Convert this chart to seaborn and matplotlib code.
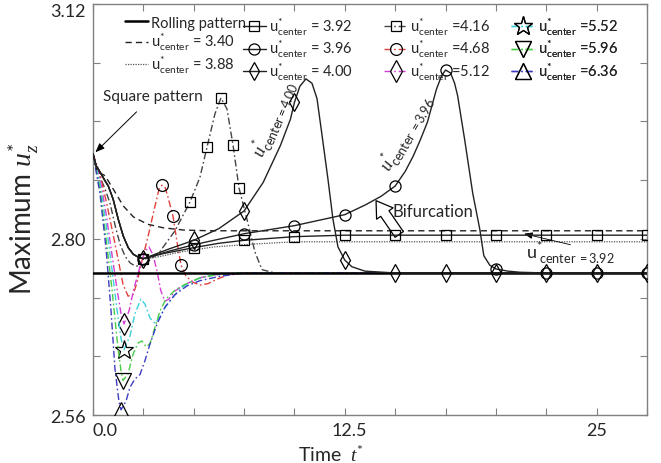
import numpy as np
import matplotlib
matplotlib.use("Agg")
import matplotlib.pyplot as plt
import matplotlib.transforms as mtransforms
from matplotlib.lines import Line2D
import seaborn as sns

# ---------------------------------------------------------------- data
# Rolling-pattern reference level
t_roll = [0.0, 27.5]
v_roll = [2.7535, 2.7535]

t_340 = [0.0, 0.2, 0.6, 1.0, 1.5, 2.0, 2.7, 3.5, 4.5, 5.8, 8.0, 27.5]
v_340 = [2.916, 2.892, 2.886, 2.868, 2.845, 2.830, 2.820, 2.815, 2.812, 2.811, 2.811, 2.811]

t_388 = [0.0, 0.15, 0.35, 0.6, 0.76, 1.0, 1.25, 1.5, 1.75, 2.0, 2.25, 2.5, 3.5, 4.3, 6.0, 8.0, 10.0, 27.5]
v_388 = [2.916, 2.900, 2.891, 2.879, 2.872, 2.854, 2.827, 2.804, 2.788, 2.779, 2.775, 2.772,
         2.777, 2.782, 2.789, 2.793, 2.796, 2.796]

t_392 = [0.0, 0.15, 0.35, 0.6, 0.76, 1.0, 1.25, 1.5, 1.75, 2.0, 2.25, 2.5, 3.5, 5.0, 6.25,
         7.5, 10.0, 12.5, 15.0, 17.5, 20.0, 22.5, 25.0, 27.5]
v_392 = [2.916, 2.900, 2.891, 2.879, 2.872, 2.854, 2.827, 2.804, 2.788, 2.779, 2.775, 2.773,
         2.780, 2.788, 2.794, 2.798, 2.803, 2.805, 2.805, 2.805, 2.805, 2.805, 2.805, 2.805]

t_396 = [0.0, 0.15, 0.35, 0.6, 0.76, 1.0, 1.25, 1.5, 1.75, 2.0, 2.25, 2.5, 3.75, 5.0, 7.5,
         10.0, 12.5, 13.5, 14.3, 15.0, 15.5, 15.9, 16.25, 16.6, 17.05, 17.3, 17.5, 17.75,
         17.95, 18.1, 18.45, 18.85, 19.2, 19.4, 19.7, 20.0, 20.6, 21.2, 22.5, 25.0, 27.5]
v_396 = [2.916, 2.900, 2.891, 2.879, 2.872, 2.854, 2.827, 2.804, 2.788, 2.779, 2.775, 2.773,
         2.783, 2.792, 2.807, 2.818, 2.833, 2.846, 2.858, 2.872, 2.892, 2.913, 2.935, 2.959,
         3.004, 3.022, 3.030, 3.026, 3.012, 2.995, 2.935, 2.862, 2.813, 2.777, 2.764, 2.759,
         2.756, 2.7545, 2.7535, 2.7535, 2.7535]

t_400 = [0.0, 0.15, 0.35, 0.6, 0.76, 1.0, 1.25, 1.5, 1.75, 2.0, 2.25, 2.5, 3.75, 5.0, 6.25,
         7.5, 8.45, 9.3, 9.8, 10.0, 10.27, 10.57, 10.87, 11.12, 11.36, 11.66, 11.91, 12.16,
         12.5, 12.85, 13.5, 15.0, 17.5, 20.0, 22.5, 25.0, 27.5]
v_400 = [2.916, 2.900, 2.891, 2.879, 2.872, 2.854, 2.827, 2.804, 2.788, 2.779, 2.775, 2.773,
         2.786, 2.798, 2.814, 2.838, 2.877, 2.927, 2.963, 2.986, 3.008, 3.018, 3.012, 2.991,
         2.943, 2.882, 2.827, 2.789, 2.771, 2.762, 2.756, 2.7535, 2.7535, 2.7535, 2.7535,
         2.7535, 2.7535]

t_416 = [0.0, 0.15, 0.35, 0.6, 0.85, 1.1, 1.35, 1.6, 1.85, 2.1, 2.35, 2.6, 3.33, 4.07, 4.81,
         5.31, 5.66, 6.05, 6.35, 6.65, 6.95, 7.25, 7.64, 8.04, 8.39, 9.03, 27.5]
v_416 = [2.916, 2.897, 2.884, 2.868, 2.848, 2.818, 2.792, 2.776, 2.767, 2.763, 2.763, 2.766,
         2.783, 2.811, 2.850, 2.884, 2.925, 2.970, 2.992, 2.977, 2.928, 2.869, 2.827, 2.782,
         2.758, 2.7535, 2.7535]

t_468 = [0.0, 0.35, 0.69, 0.99, 1.24, 1.49, 1.74, 1.99, 2.18, 2.43, 2.73, 3.08, 3.28, 3.42,
         3.57, 3.72, 3.97, 4.17, 4.37, 4.62, 4.96, 5.31, 5.71, 6.15, 6.7, 7.54, 27.5]
v_468 = [2.916, 2.888, 2.847, 2.807, 2.773, 2.738, 2.722, 2.724, 2.740, 2.770, 2.803, 2.845,
         2.868, 2.873, 2.871, 2.857, 2.831, 2.796, 2.764, 2.749, 2.741, 2.737, 2.739, 2.745,
         2.751, 2.7535, 2.7535]

t_512 = [0.0, 0.35, 0.65, 0.94, 1.19, 1.39, 1.54, 1.79, 2.03, 2.33, 2.58, 2.78, 2.98, 3.18,
         3.37, 3.57, 3.77, 4.07, 4.57, 5.31, 6.05, 7.3, 27.5]
v_512 = [2.916, 2.882, 2.834, 2.779, 2.732, 2.698, 2.684, 2.702, 2.732, 2.762, 2.783, 2.789,
         2.778, 2.756, 2.729, 2.715, 2.718, 2.729, 2.738, 2.747, 2.751, 2.7535, 2.7535]

t_552 = [0.0, 0.35, 0.65, 0.94, 1.19, 1.39, 1.54, 1.84, 2.08, 2.38, 2.58, 2.83, 3.08, 3.33,
         3.57, 3.92, 4.32, 4.81, 5.46, 6.3, 7.3, 27.5]
v_552 = [2.916, 2.875, 2.820, 2.759, 2.704, 2.664, 2.649, 2.668, 2.698, 2.718, 2.711, 2.692,
         2.685, 2.694, 2.706, 2.719, 2.732, 2.741, 2.748, 2.752, 2.7535, 2.7535]

t_596 = [0.0, 0.35, 0.65, 0.94, 1.19, 1.39, 1.49, 1.74, 1.99, 2.23, 2.43, 2.63, 2.83, 3.08,
         3.33, 3.62, 4.07, 4.57, 5.31, 6.3, 7.3, 27.5]
v_596 = [2.916, 2.868, 2.800, 2.732, 2.664, 2.620, 2.607, 2.616, 2.643, 2.658, 2.661, 2.653,
         2.657, 2.680, 2.702, 2.718, 2.730, 2.738, 2.747, 2.752, 2.7535, 2.7535]

t_636 = [0.0, 0.35, 0.65, 0.89, 1.09, 1.29, 1.39, 1.64, 1.84, 2.08, 2.33, 2.58, 2.83, 3.18,
         3.57, 4.07, 4.67, 5.31, 6.3, 7.54, 27.5]
v_636 = [2.916, 2.861, 2.786, 2.704, 2.623, 2.578, 2.567, 2.579, 2.598, 2.609, 2.615, 2.634,
         2.657, 2.684, 2.707, 2.724, 2.736, 2.743, 2.749, 2.7535, 2.7535]

# times at which symbols sit on each curve
mk_every_25 = [2.5, 5.0, 7.5, 10.0, 12.5, 15.0, 17.5, 20.0, 22.5, 25.0, 27.5]
mk_416 = [4.81, 5.66, 6.35, 6.95, 7.25]
mk_468 = [3.42, 3.97, 4.37]
mk_512 = [1.54]
mk_552 = [1.54]
mk_596 = [1.49]
mk_636 = [1.39]

x_ticks = np.arange(0.0, 27.51, 2.5)
x_ticklabels = {0.0: "0.0", 12.5: "12.5", 25.0: "25"}
y_ticks = np.arange(2.56, 3.121, 0.08)
y_ticklabels = {2.56: "2.56", 2.80: "2.80", 3.12: "3.12"}

# ---------------------------------------------------------------- style
sns.set_style("ticks")
plt.rcParams["font.family"] = ["Lato", "DejaVu Sans"]
plt.rcParams["mathtext.fontset"] = "custom"
plt.rcParams["mathtext.rm"] = "Lato"
plt.rcParams["mathtext.it"] = "Liberation Serif:italic"
plt.rcParams["mathtext.bf"] = "Lato:bold"

DD = (0, (5, 2, 1.2, 2))  # dash-dot pattern

def ulab(val, sep=" = "):
    return r"$\mathrm{u}^{*}_{\mathrm{center}}$" + sep + val

series = [
    dict(t=t_roll, v=v_roll, label="Rolling pattern", color="black", ls="-", lw=1.8,
         marker=None, mk=None, ms=0, z=3),
    dict(t=t_340, v=v_340, label=ulab("3.40"), color="#222222", ls=(0, (4.5, 3)), lw=1.0,
         marker=None, mk=None, ms=0, z=3),
    dict(t=t_388, v=v_388, label=ulab("3.88"), color="#555555", ls=(0, (1, 1)), lw=0.9,
         marker=None, mk=None, ms=0, z=3),
    dict(t=t_392, v=v_392, label=ulab("3.92"), color="#222222", ls="-", lw=1.0,
         marker="s", mk=mk_every_25, ms=7, z=4),
    dict(t=t_396, v=v_396, label=ulab("3.96"), color="#222222", ls="-", lw=1.0,
         marker="o", mk=mk_every_25, ms=8, z=4),
    dict(t=t_400, v=v_400, label=ulab("4.00"), color="#222222", ls="-", lw=1.0,
         marker="d", mk=mk_every_25, ms=9, z=4),
    dict(t=t_416, v=v_416, label=ulab("4.16", " ="), color="#444444", ls=DD, lw=1.0,
         marker="s", mk=mk_416, ms=7.5, z=3),
    dict(t=t_468, v=v_468, label=ulab("4.68", " ="), color="#e0403c", ls=DD, lw=1.0,
         marker="o", mk=mk_468, ms=8.5, z=3),
    dict(t=t_512, v=v_512, label=ulab("5.12", " ="), color="#d83cd8", ls=DD, lw=1.0,
         marker="d", mk=mk_512, ms=11, z=3),
    dict(t=t_552, v=v_552, label=ulab("5.52", " ="), color="#3cd0d8", ls=DD, lw=1.0,
         marker="*", mk=mk_552, ms=14, z=3),
    dict(t=t_596, v=v_596, label=ulab("5.96", " ="), color="#48cc48", ls=DD, lw=1.0,
         marker="v", mk=mk_596, ms=11, z=3),
    dict(t=t_636, v=v_636, label=ulab("6.36", " ="), color="#3c3cc0", ls=DD, lw=1.0,
         marker="^", mk=mk_636, ms=11, z=3),
]

fig = plt.figure(figsize=(6.61, 4.64), dpi=100)
ax = fig.add_axes([93 / 661, 1 - 416 / 464, 554 / 661, 411 / 464])

# draw colored transients first, black curves on top
order = [6, 7, 8, 9, 10, 11, 1, 2, 3, 4, 5, 0]
for i in order:
    s = series[i]
    t = np.asarray(s["t"], dtype=float)
    v = np.asarray(s["v"], dtype=float)
    kw = dict(color=s["color"], linestyle=s["ls"], linewidth=s["lw"], zorder=s["z"])
    if s["marker"] is not None:
        every = [int(k) for k in np.flatnonzero(np.isin(np.round(t, 3), np.round(s["mk"], 3)))]
        kw.update(marker=s["marker"], markevery=every, markersize=s["ms"],
                  markerfacecolor="none", markeredgecolor="black", markeredgewidth=0.9)
    sns.lineplot(x=t, y=v, ax=ax, estimator=None, sort=False, errorbar=None, **kw)

ax.set_xlim(0, 27.5)
ax.set_ylim(2.56, 3.12)
ax.set_xticks(x_ticks)
ax.set_xticklabels([x_ticklabels.get(round(x, 2), "") for x in x_ticks])
ax.set_yticks(y_ticks)
ax.set_yticklabels([y_ticklabels.get(round(y, 2), "") for y in y_ticks])
ax.tick_params(direction="in", length=5, width=0.8, color="#808080", labelsize=13,
               top=True, right=True, pad=5)
for sp in ax.spines.values():
    sp.set_color("#808080")
    sp.set_linewidth(1.0)

# nudge a few tick labels
xl = ax.get_xticklabels()
xl[0].set_horizontalalignment("left")
xl[5].set_transform(xl[5].get_transform()
                    + mtransforms.ScaledTranslation(4 / 100, 0, fig.dpi_scale_trans))
yl = ax.get_yticklabels()
yl[-1].set_transform(yl[-1].get_transform()
                     + mtransforms.ScaledTranslation(0, -5 / 100, fig.dpi_scale_trans))

ax.set_xlabel(r"Time  $t^{*}$", fontsize=14)
ax.xaxis.set_label_coords(0.43, -0.068)
ax.set_ylabel(r"Maximum $u^{*}_{z}$", fontsize=20)
ax.yaxis.set_label_coords(-0.095, 0.48)

# legend, one block per column
handles = []
for s in series:
    handles.append(Line2D([], [], color=s["color"], linestyle=s["ls"], linewidth=s["lw"],
                          marker=s["marker"], markersize=s["ms"], markerfacecolor="none",
                          markeredgecolor="black", markeredgewidth=0.9))
col_x = [0.058, 0.27, 0.525, 0.755]
for c in range(4):
    hs = handles[3 * c:3 * c + 3]
    ls = [s["label"] for s in series[3 * c:3 * c + 3]]
    leg = ax.legend(hs, ls, loc="upper left", bbox_to_anchor=(col_x[c], 0.972),
                    frameon=False, fontsize=10.5, handlelength=1.6, handletextpad=0.2,
                    labelspacing=0.1, borderpad=0, borderaxespad=0)
    ax.add_artist(leg)

# annotations
ax.annotate("Square pattern", xy=(0.12, 2.918), xytext=(0.5, 2.995), fontsize=11,
            ha="left", va="center",
            arrowprops=dict(arrowstyle="-|>,head_length=0.5,head_width=0.2", color="black",
                            lw=0.7, shrinkA=6, shrinkB=0))
ax.text(9.05, 2.965, r"$u^{*}_{\mathrm{center=4.00}}$", fontsize=13, rotation=67,
        ha="center", va="center")
ax.text(15.6, 2.945, r"$u^{*}_{\mathrm{center\ =3.96}}$", fontsize=13, rotation=60,
        ha="center", va="center")
ax.annotate("", xy=(14.05, 2.852), xytext=(15.2, 2.806),
            arrowprops=dict(arrowstyle="simple,head_length=0.7,head_width=0.9,tail_width=0.45",
                            mutation_scale=16, fc="white", ec="black", lw=0.9,
                            shrinkA=0, shrinkB=0))
ax.text(14.85, 2.838, "Bifurcation", fontsize=12, ha="left", va="center")
ax.annotate("", xy=(21.4, 2.807), xytext=(23.7, 2.792),
            arrowprops=dict(arrowstyle="-|>,head_length=0.5,head_width=0.2", color="black",
                            lw=0.6, shrinkA=0, shrinkB=0))
ax.text(23.7, 2.781, r"$\mathrm{u}^{*}_{\ \mathrm{center\ =3.92}}$", fontsize=13,
        ha="center", va="center")

fig.savefig("out.png", dpi=100)
